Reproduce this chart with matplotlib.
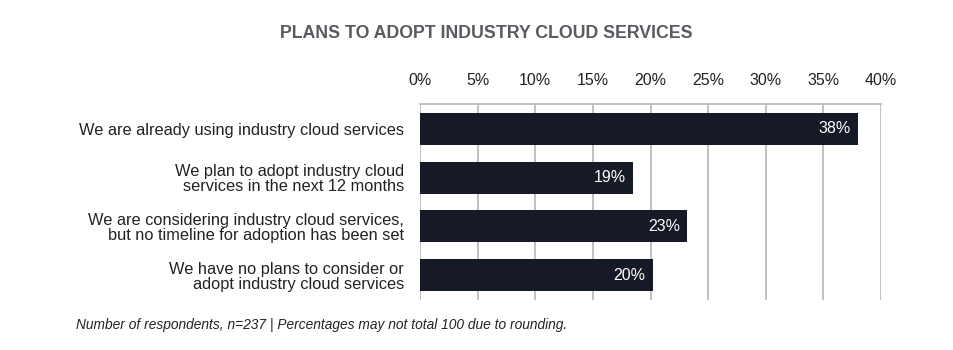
import matplotlib
matplotlib.use("Agg")
import matplotlib.pyplot as plt
from matplotlib import font_manager

categories = [
    "We are already using industry cloud services",
    "We plan to adopt industry cloud\nservices in the next 12 months",
    "We are considering industry cloud services,\nbut no timeline for adoption has been set",
    "We have no plans to consider or\nadopt industry cloud services",
]
values = [38, 18.5, 23.2, 20.2]
value_labels = ["38%", "19%", "23%", "20%"]
tick_values = [0, 5, 10, 15, 20, 25, 30, 35, 40]
tick_labels = ["0%", "5%", "10%", "15%", "20%", "25%", "30%", "35%", "40%"]
title = "PLANS TO ADOPT INDUSTRY CLOUD SERVICES"
footnote = "Number of respondents, n=237 | Percentages may not total 100 due to rounding."

names = {f.name for f in font_manager.fontManager.ttflist}
narrow = "Liberation Sans Narrow" if "Liberation Sans Narrow" in names else "Liberation Sans"
plt.rcParams["font.family"] = ["Liberation Sans", "DejaVu Sans"]

fig = plt.figure(figsize=(9.54, 3.5), dpi=100)
ax = fig.add_axes([420/954, 1-300/350, 461/954, 196/350])

bar_color = "#161a26"
ypos = list(range(len(categories)))
ax.barh(ypos, values, height=0.66, color=bar_color, zorder=3)
for y, v, lab in zip(ypos, values, value_labels):
    ax.text(v - 0.65, y, lab, color="white", ha="right", va="center", fontsize=11.5, zorder=4)

ax.set_xlim(0, 40)
ax.set_ylim(3.51, -0.51)
ax.set_xticks(tick_values)
ax.set_xticklabels(tick_labels, fontsize=11.5, color="#222222")
ax.xaxis.tick_top()
ax.tick_params(axis="x", length=0, pad=11.5)
ax.grid(axis="x", color="#b5b5b5", linewidth=1.2, zorder=0)
ax.set_yticks(ypos)
ax.set_yticklabels(categories, fontsize=11.8, color="#222222", linespacing=1.0)
ax.tick_params(axis="y", length=0, pad=11.5)
for s in ["left", "right", "bottom"]:
    ax.spines[s].set_visible(False)
ax.spines["top"].set_color("#b5b5b5")
ax.spines["top"].set_linewidth(1.2)

fig.text(486/954, 1-34/350, title, ha="center", va="center", fontsize=12.8,
         fontweight="bold", color="#5a5a60", family=[narrow, "DejaVu Sans"])
fig.text(76/954, 1-325/350, footnote, ha="left", va="center", fontsize=9.9,
         style="italic", color="#222222")

fig.savefig("out.png", dpi=100)
